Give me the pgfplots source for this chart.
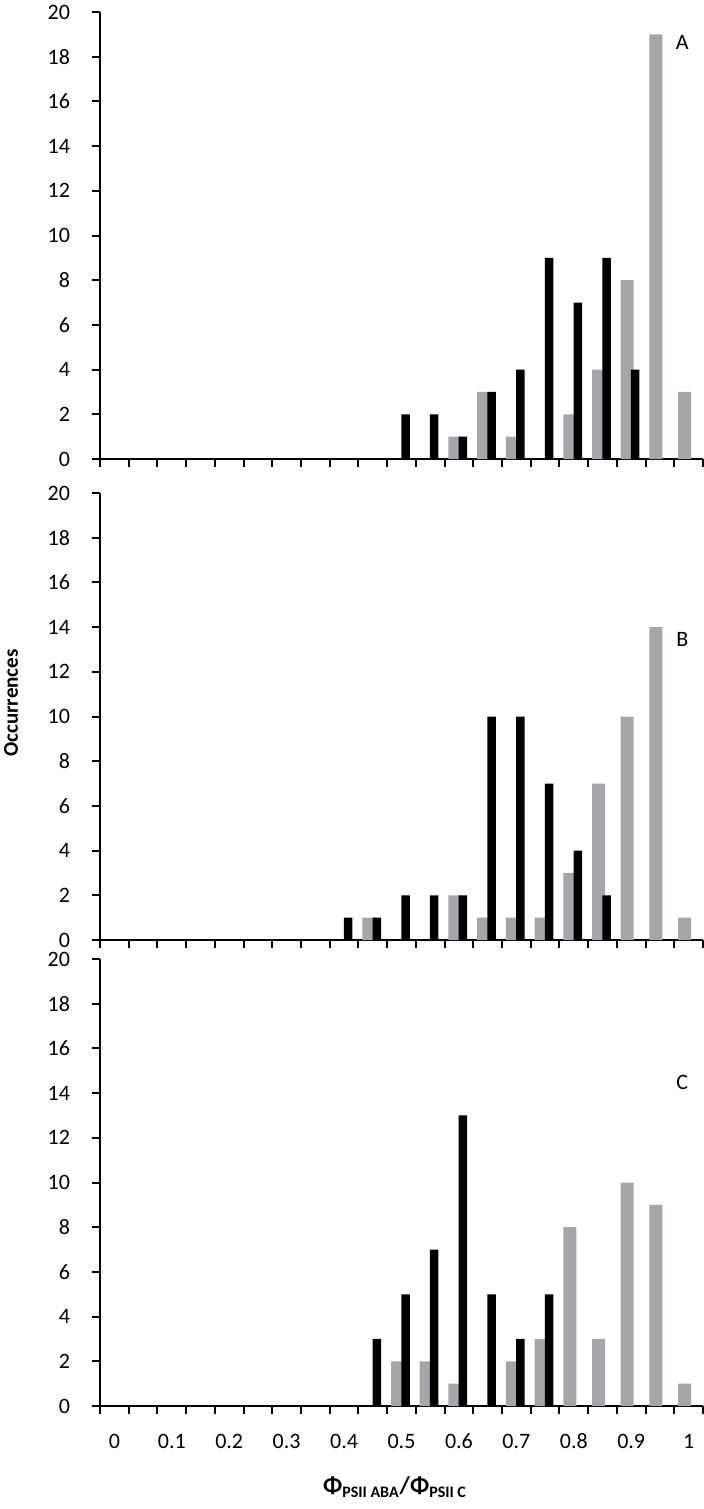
\documentclass[border=0pt]{standalone}
\usepackage{pgfplots}
\pgfplotsset{compat=1.18}
\usepackage{pgfplotstable}
\usepackage{fontspec}
\setmainfont{Carlito}
\definecolor{bargray}{RGB}{165,166,170}

% k = class index (0 -> 0, 1 -> 0.05, ..., 20 -> 1), v = occurrences
\pgfplotstableread{
k v
12 1
13 3
14 1
16 2
17 4
18 8
19 19
20 3
}\grayA
\pgfplotstableread{
k v
10 2
11 2
12 1
13 3
14 4
15 9
16 7
17 9
18 4
}\blackA
\pgfplotstableread{
k v
9 1
12 2
13 1
14 1
15 1
16 3
17 7
18 10
19 14
20 1
}\grayB
\pgfplotstableread{
k v
8 1
9 1
10 2
11 2
12 2
13 10
14 10
15 7
16 4
17 2
}\blackB
\pgfplotstableread{
k v
10 2
11 2
12 1
14 2
15 3
16 8
17 3
18 10
19 9
20 1
}\grayC
\pgfplotstableread{
k v
9 3
10 5
11 7
12 13
13 5
14 3
15 5
}\blackC

\pgfplotsset{
  panel/.style={
    scale only axis, width=301.5pt, height=223.5pt,
    xmin=0, xmax=21, ymin=0, ymax=20,
    axis lines*=left,
    axis line style={line width=1pt},
    every tick/.style={black, line width=1pt},
    major tick length=4pt,
    tick align=outside,
    xtick={0,...,21}, xticklabels={},
    ytick={0,2,...,20},
    yticklabel style={font=\fontsize{11}{13}\selectfont, xshift=-7.5pt},
    /pgf/number format/assume math mode=true,
    clip=false,
    anchor=south west,
  },
  gbar/.style={ybar, fill=bargray, draw=none, bar width=6.5pt, bar shift=-2pt},
  kbar/.style={ybar, fill=black, draw=none, bar width=4.25pt, bar shift=2pt},
}

\begin{document}
\begin{tikzpicture}
\useasboundingbox (-50pt,0pt) rectangle (302pt,-754.5pt);

\begin{axis}[panel, at={(0pt,-229.5pt)}]
  \addplot[gbar] table[x expr=\thisrow{k}+0.5, y=v] {\grayA};
  \addplot[kbar] table[x expr=\thisrow{k}+0.5, y=v] {\blackA};
  \node[font=\fontsize{11}{13}\selectfont] at (axis cs:20.28,18.66) {A};
\end{axis}

\begin{axis}[panel, at={(0pt,-470pt)}]
  \addplot[gbar] table[x expr=\thisrow{k}+0.5, y=v] {\grayB};
  \addplot[kbar] table[x expr=\thisrow{k}+0.5, y=v] {\blackB};
  \node[font=\fontsize{11}{13}\selectfont] at (axis cs:20.28,13.45) {B};
\end{axis}

\begin{axis}[panel, at={(0pt,-703pt)},
  extra x ticks={0.5,2.5,4.5,6.5,8.5,10.5,12.5,14.5,16.5,18.5,20.5},
  extra x tick labels={0,0.1,0.2,0.3,0.4,0.5,0.6,0.7,0.8,0.9,1},
  extra x tick style={major tick length=0pt,
    tick label style={font=\fontsize{11}{13}\selectfont, anchor=north,
      text height=1.5ex, text depth=0.25ex, yshift=-10.5pt}},
  ]
  \addplot[gbar] table[x expr=\thisrow{k}+0.5, y=v] {\grayC};
  \addplot[kbar] table[x expr=\thisrow{k}+0.5, y=v] {\blackC};
  \node[font=\fontsize{11}{13}\selectfont] at (axis cs:20.28,14.48) {C};
\end{axis}

\node[rotate=90, font=\fontsize{10.5}{12}\selectfont\bfseries] at (-44.5pt,-351.5pt) {Occurrences};
\node[font=\fontsize{12}{14}\selectfont\bfseries] at (147.5pt,-743.5pt)
  {Φ\textsubscript{PSII ABA}/Φ\textsubscript{PSII C}};
\end{tikzpicture}
\end{document}
